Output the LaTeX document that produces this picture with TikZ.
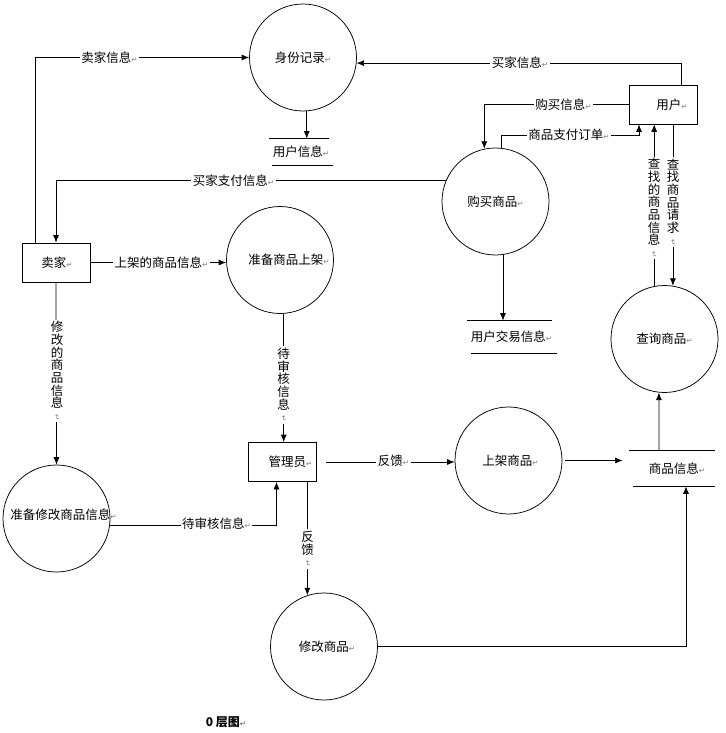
\documentclass[tikz,border=0pt]{standalone}
\usepackage{fontspec}
\usepackage{graphicx}
\usepackage{tikz}
\usetikzlibrary{arrows.meta}
\setmainfont{Noto Sans CJK SC}
\newfontfamily\symfont{DejaVu Sans}
\newcommand\pmark{{\symfont\fontsize{7.5}{7.5}\selectfont\color{gray}↵}}
\newcommand\vmark{\rotatebox{-90}{\pmark}}
\tikzset{
	proc/.style={circle, draw, minimum size=107pt, inner sep=0pt},
	ent/.style={rectangle, draw, minimum width=68pt, minimum height=39pt, inner sep=0pt},
	store/.style={inner sep=0pt},
	lbl/.style={fill=white, inner sep=1.5pt}
}
\begin{document}
\begin{tikzpicture}[x=1pt, y=-1pt, line width=0.75pt, >={Latex[length=7.5pt,width=6pt]}, every node/.style={font=\fontsize{12.5}{12.7}\selectfont}]
			\useasboundingbox (0,0) rectangle (725,733);
			\node[proc, label={center:身份记录\pmark}] (0) at (303, 57.5) {};
			\node[ent, label={[xshift=9pt]center:用户\pmark}] (1) at (663, 104.5) {};
			\node[ent, label={[xshift=1pt]center:卖家\pmark}] (2) at (56, 262.5) {};
			\node[proc, label={center:购买商品\pmark}] (3) at (495.5, 201.5) {};
			\node[proc, label={[xshift=9pt]center:准备商品上架\pmark}] (4) at (280, 260) {};
			\node[store, minimum width=60pt, minimum height=26pt] (5) at (301, 152) {用户信息\pmark};
			\node[store, minimum width=85pt, minimum height=32pt] (6) at (511.5, 337) {用户交易信息\pmark};
			\node[proc, label={center:查询商品\pmark}] (7) at (664.5, 339) {};
			\node[ent, label={[xshift=8pt]center:管理员\pmark}] (8) at (282.5, 462) {};
			\node[proc, label={[xshift=2pt]center:上架商品\pmark}] (9) at (508.5, 460.5) {};
			\node[store, minimum width=86pt, minimum height=35pt] (10) at (672, 468.5) {\hspace{10pt}商品信息\pmark};
			\node[proc, label={[xshift=7pt,yshift=4pt]center:准备修改商品信息\pmark}] (11) at (56.5, 518.5) {};
			\node[proc, label={[xshift=3pt]center:修改商品\pmark}] (12) at (324, 646.5) {};
			\draw ([xshift=-2pt]5.north west) -- ([xshift=-2pt]5.north east);
			\draw ([xshift=1.5pt]5.south west) -- ([xshift=1.5pt]5.south east);
			\draw ([xshift=-2pt]6.north west) -- ([xshift=-2pt]6.north east);
			\draw ([xshift=2.5pt]6.south west) -- ([xshift=2.5pt]6.south east);
			\draw (10.north west) -- (10.north east);
			\draw ([xshift=4pt]10.south west) -- (10.south east);
			\draw [->] ([xshift=-21pt]2.north) |- (0.west);
			\draw [->] ([xshift=18pt]1.north) |- (0.-6);
			\draw [->] (0.-86) -- (0.-86 |- 5.north);
			\draw [->] (1.west) -| (3.102);
			\draw [->] (3.84) -- ++(0,-13) -| ([xshift=-24pt]1.south);
			\draw [->] (7.101) -- (7.101 |- 1.south);
			\draw [->] (7.81 |- 1.south) -- (7.81);
			\draw [->] (3.157) -| (2.north);
			\draw [->] (3.-82) -- (3.-82 |- 6.north);
			\draw [->] (2.east) -- (2.east -| 4.west);
			\draw [->] (2.south) -- (11.north);
			\draw [->] (4.-86) -- (4.-86 |- 8.north);
			\draw [->] (11.-7) -| ([xshift=-6pt]8.south);
			\draw [->] (12.108 |- 8.south) -- (12.108);
			\draw [->] ([xshift=9pt]8.east) -- (8.east -| 9.west);
			\draw [->] ([xshift=3pt]9.east) -- ([xshift=-6pt]9.east -| 10.west);
			\draw [->] ([xshift=-13pt]10.north) -- (7.264);
			\draw [->] (12.east) -| ([xshift=14pt]10.south);
			\node[lbl] (13) at (109.5, 57.5) {卖家信息\pmark};
			\node[lbl] (14) at (520, 63) {买家信息\pmark};
			\node[lbl] (15) at (563.5, 104.5) {购买信息\pmark};
			\node[lbl] (16) at (569, 135) {商品支付订单\pmark};
			\node[lbl] (17) at (233.5, 181) {买家支付信息\pmark};
			\node[lbl] (18) at (161.5, 262.5) {上架的商品信息\pmark};
			\node[lbl] (19) at (216.5, 524) {待审核信息\pmark};
			\node[lbl] (20) at (393.5, 461) {反馈\pmark};
			\node[lbl, align=center] (21) at (654, 208) {查\\找\\的\\商\\品\\信\\息\\[-6pt]\vmark};
			\node[lbl, align=center] (22) at (673, 202) {查\\找\\商\\品\\请\\求\\[-6pt]\vmark};
			\node[lbl, align=center] (23) at (57, 371) {修\\改\\的\\商\\品\\信\\息\\[-6pt]\vmark};
			\node[lbl, align=center] (24) at (283.7, 385) {待\\审\\核\\信\\息\\[-6pt]\vmark};
			\node[lbl, align=center] (25) at (307.5, 549) {反\\馈\\[-6pt]\vmark};
			\node[font=\fontsize{12}{13}\selectfont\bfseries] (26) at (226, 722) {0 层图\pmark};
			\end{tikzpicture}
\end{document}
